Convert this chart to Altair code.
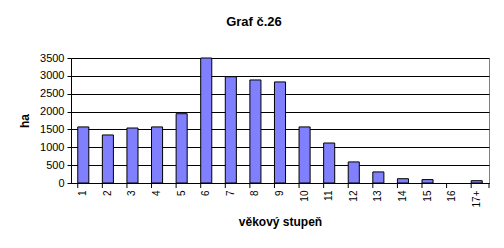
import altair as alt
import pandas as pd

categories = ["1", "2", "3", "4", "5", "6", "7", "8", "9", "10", "11", "12", "13", "14", "15", "16", "17+"]
values = [1570, 1345, 1540, 1570, 1940, 3500, 2975, 2885, 2830, 1570, 1120, 590, 310, 120, 95, 0, 65]

df = pd.DataFrame({"stupen": categories, "ha": values})

FONT = "Liberation Sans"
W, H = 418, 125

xscale = alt.Scale(domain=categories, paddingInner=0.55, paddingOuter=0.275)

bars = alt.Chart(df).transform_filter("datum.ha > 0").mark_bar(
    color="#8080FF", stroke="black", strokeWidth=1
).encode(
    x=alt.X("stupen:N", sort=categories, scale=xscale,
            axis=alt.Axis(title="věkový stupeň", labelAngle=-90, labelAlign="right",
                          labelBaseline="middle", labelFont=FONT, labelFontSize=10,
                          labelColor="black", labelPadding=7, ticks=False,
                          domainColor="black", domainWidth=1,
                          titleFont=FONT, titleFontSize=12, titleFontWeight="bold",
                          titleColor="black", titlePadding=10)),
    y=alt.Y("ha:Q", scale=alt.Scale(domain=[0, 3500], nice=False),
            axis=alt.Axis(title="ha", values=[0, 500, 1000, 1500, 2000, 2500, 3000, 3500],
                          format="d",
                          grid=True, gridColor="black", gridWidth=1,
                          labelFont=FONT, labelFontSize=11, labelColor="black",
                          tickColor="black", tickSize=4, labelPadding=3,
                          domainColor="black",
                          titleFont=FONT, titleFontSize=12, titleFontWeight="bold",
                          titleColor="black", titlePadding=8)),
)

ticks = alt.Chart(df).mark_rule(color="black", strokeWidth=1).encode(
    x=alt.X("stupen:N", sort=categories, scale=xscale, bandPosition=0),
    y=alt.value(H),
    y2=alt.value(H + 5),
)

end_tick = alt.Chart(pd.DataFrame({"a": [0]})).mark_rule(color="black", strokeWidth=1).encode(
    x=alt.value(W), y=alt.value(H), y2=alt.value(H + 5)
)

chart = alt.layer(bars, ticks, end_tick).properties(
    width=W, height=H,
    title=alt.TitleParams("Graf č.26", font=FONT, fontSize=13, fontWeight="bold",
                          color="black", anchor="middle", dx=-26, offset=23),
    autosize=alt.AutoSizeParams(type="none"),
    padding={"left": 71, "top": 58, "right": 15, "bottom": 65},
    background="white",
).configure_view(stroke="#808080", strokeWidth=1)

chart.save("out.html", embed_options={"renderer": "svg", "actions": False})
